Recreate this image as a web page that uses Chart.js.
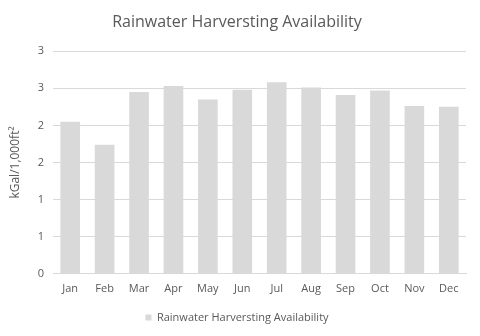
<!DOCTYPE html>
<html>
<head>
<meta charset="UTF-8">
<script src="https://cdn.jsdelivr.net/npm/chart.js@4"></script>
<style>
html, body { margin: 0; padding: 0; background: #fff; }
#wrap { width: 480px; height: 336px; }
</style>
</head>
<body>
<div id="wrap"><canvas id="c" width="480" height="336"></canvas></div>
<script>
// data
const months = ['Jan','Feb','Mar','Apr','May','Jun','Jul','Aug','Sep','Oct','Nov','Dec'];
const availability = [2.05, 1.74, 2.45, 2.53, 2.35, 2.48, 2.58, 2.51, 2.41, 2.47, 2.26, 2.25];
const seriesName = 'Rainwater Harversting Availability';
const yMin = 0, yMax = 3, yStep = 0.5;

const fontFam = '"Open Sans", "Noto Sans", sans-serif';
const grey = '#d9d9d9';
const textCol = '#595959';

new Chart(document.getElementById('c'), {
  type: 'bar',
  data: {
    labels: months,
    datasets: [{
      label: seriesName,
      data: availability,
      backgroundColor: grey,
      borderWidth: 0,
      barPercentage: 0.571,
      categoryPercentage: 1
    }]
  },
  options: {
    responsive: false,
    animation: false,
    layout: { padding: { left: 8, right: 14, top: 7, bottom: 3 } },
    plugins: {
      title: {
        display: true,
        text: seriesName,
        color: textCol,
        font: { family: fontFam, size: 16, weight: 'normal' },
        padding: { top: 6, bottom: 19 }
      },
      legend: {
        position: 'bottom',
        labels: {
          color: textCol,
          font: { family: fontFam, size: 11 },
          boxWidth: 6, boxHeight: 6,
          padding: 12
        }
      },
      tooltip: { enabled: false }
    },
    scales: {
      x: {
        grid: { display: false },
        border: { color: grey },
        ticks: { color: textCol, font: { family: fontFam, size: 11 }, padding: 0 },
        afterFit: s => { s.height += 5; }
      },
      y: {
        min: yMin, max: yMax,
        ticks: {
          stepSize: yStep,
          color: textCol,
          font: { family: fontFam, size: 11 },
          padding: 9,
          callback: v => Math.round(v)
        },
        grid: { color: grey, drawTicks: false },
        border: { display: false },
        title: {
          display: true,
          text: 'kGal/1,000ft²',
          color: textCol,
          font: { family: fontFam, size: 12 },
          padding: { top: 0, bottom: 6 }
        },
        afterFit: s => { s.width = 45; }
      }
    }
  }
});
</script>
</body>
</html>
